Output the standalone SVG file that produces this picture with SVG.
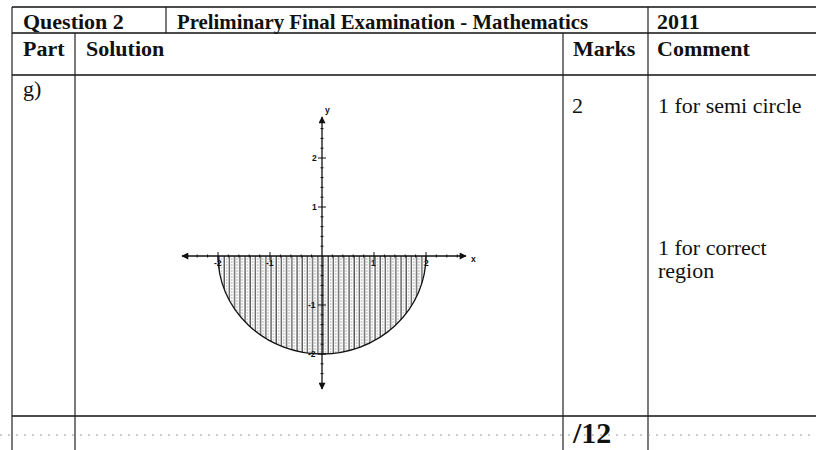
<svg xmlns="http://www.w3.org/2000/svg" width="816" height="450" viewBox="0 0 816 450">
<defs>
<style>
.rule{stroke:#111;stroke-width:1.6;fill:none}
.thin{stroke:#222;stroke-width:1.2;fill:none}
.hd{font-family:"Liberation Serif","Times New Roman",serif;font-weight:bold;font-size:22px;fill:#111}
.bd{font-family:"Liberation Serif","Times New Roman",serif;font-size:22px;fill:#111}
.ax{stroke:#111;stroke-width:1.3;fill:none}
.tk{stroke:#111;stroke-width:1;fill:none}
.lb{font-family:"Liberation Sans",Arial,sans-serif;font-weight:bold;font-size:8.5px;fill:#111}
</style>
<marker id="arr" viewBox="0 0 10 10" refX="9" refY="5" markerWidth="8" markerHeight="7" orient="auto" markerUnits="userSpaceOnUse">
<path d="M0,0 L10,5 L0,10 z" fill="#111"/>
</marker>
<pattern id="hatch" x="218" y="0" width="5.2" height="6" patternUnits="userSpaceOnUse">
<line x1="1" y1="0" x2="1" y2="6" stroke="#222" stroke-width="1"/>
<line x1="3.4" y1="0" x2="3.4" y2="6" stroke="#999" stroke-width="0.8" stroke-dasharray="2 1"/>
</pattern>
<clipPath id="semi"><path d="M218,256 A104,98 0 0 0 426,256 Z"/></clipPath>
</defs>
<rect width="816" height="450" fill="#fff"/>

<g id="table">
<line class="rule" x1="12" y1="7" x2="816" y2="7" stroke-width="2"/>
<line class="rule" x1="12" y1="33" x2="816" y2="33"/>
<line class="rule" x1="12" y1="75" x2="816" y2="75" stroke-width="2"/>
<line class="rule" x1="12" y1="416" x2="816" y2="416"/>
<line class="thin" x1="12" y1="7" x2="12" y2="450"/>
<line class="thin" x1="166" y1="7" x2="166" y2="33"/>
<line class="thin" x1="75" y1="33" x2="75" y2="450"/>
<line class="thin" x1="563" y1="33" x2="563" y2="450"/>
<line class="thin" x1="648" y1="7" x2="648" y2="450"/>
<line x1="0" y1="435" x2="816" y2="435" stroke="#999" stroke-width="1" stroke-dasharray="2 6"/>
</g>

<g id="headers">
<text class="hd" x="23" y="29">Question 2</text>
<text class="hd" x="177" y="29" textLength="411" lengthAdjust="spacingAndGlyphs">Preliminary Final Examination -  Mathematics</text>
<text class="hd" x="657" y="29">2011</text>
<text class="hd" x="23" y="56">Part</text>
<text class="hd" x="86" y="56">Solution</text>
<text class="hd" x="573" y="56">Marks</text>
<text class="hd" x="657" y="56">Comment</text>
</g>

<g id="row-g">
<text class="bd" x="23" y="96">g)</text>
<text class="bd" x="572" y="113">2</text>
<text class="bd" x="658" y="113">1 for semi circle</text>
<text class="bd" x="658" y="255">1 for correct</text>
<text class="bd" x="658" y="278">region</text>
</g>

<g id="total">
<text class="hd" x="573" y="443" style="font-size:30px">/12</text>
</g>

<g id="graph">
<rect x="218" y="256" width="208" height="100" fill="url(#hatch)" clip-path="url(#semi)"/>
<path class="ax" d="M218,256 A104,98 0 0 0 426,256"/>
<line class="ax" x1="322" y1="256" x2="182" y2="256" marker-end="url(#arr)"/>
<line class="ax" x1="322" y1="256" x2="466" y2="256" marker-end="url(#arr)"/>
<line class="ax" x1="322" y1="256" x2="322" y2="117" marker-end="url(#arr)"/>
<line class="ax" x1="322" y1="256" x2="322" y2="389" marker-end="url(#arr)"/>
<g id="xticks" class="tk">
<path d="M186.8,254.5v3M197.2,254.5v3M207.6,254.5v3M218,252v8M228.4,254.5v3M238.8,254.5v3M249.2,254.5v3M259.6,254.5v3M270,252v8M280.4,254.5v3M290.8,254.5v3M301.2,254.5v3M311.6,254.5v3M332.4,254.5v3M342.8,254.5v3M353.2,254.5v3M363.6,254.5v3M374,252v8M384.4,254.5v3M394.8,254.5v3M405.2,254.5v3M415.6,254.5v3M426,252v8M436.4,254.5v3M446.8,254.5v3M457.2,254.5v3"/>
</g>
<g id="yticks" class="tk">
<path d="M320.5,128.6h3M320.5,138.4h3M320.5,148.2h3M318,158h8M320.5,167.8h3M320.5,177.6h3M320.5,187.4h3M320.5,197.2h3M318,207h8M320.5,216.8h3M320.5,226.6h3M320.5,236.4h3M320.5,246.2h3M320.5,265.8h3M320.5,275.6h3M320.5,285.4h3M320.5,295.2h3M318,305h8M320.5,314.8h3M320.5,324.6h3M320.5,334.4h3M320.5,344.2h3M318,354h8M320.5,363.8h3M320.5,373.6h3M320.5,383.4h3"/>
</g>
<text class="lb" x="325" y="113">y</text>
<text class="lb" x="471" y="262">x</text>
<text class="lb" x="312" y="161">2</text>
<text class="lb" x="312" y="210">1</text>
<text class="lb" x="308" y="308">-1</text>
<text class="lb" x="308" y="357">-2</text>
<text class="lb" x="214" y="266">-2</text>
<text class="lb" x="266" y="266">-1</text>
<text class="lb" x="371" y="266">1</text>
<text class="lb" x="424" y="266">2</text>
</g>
</svg>
